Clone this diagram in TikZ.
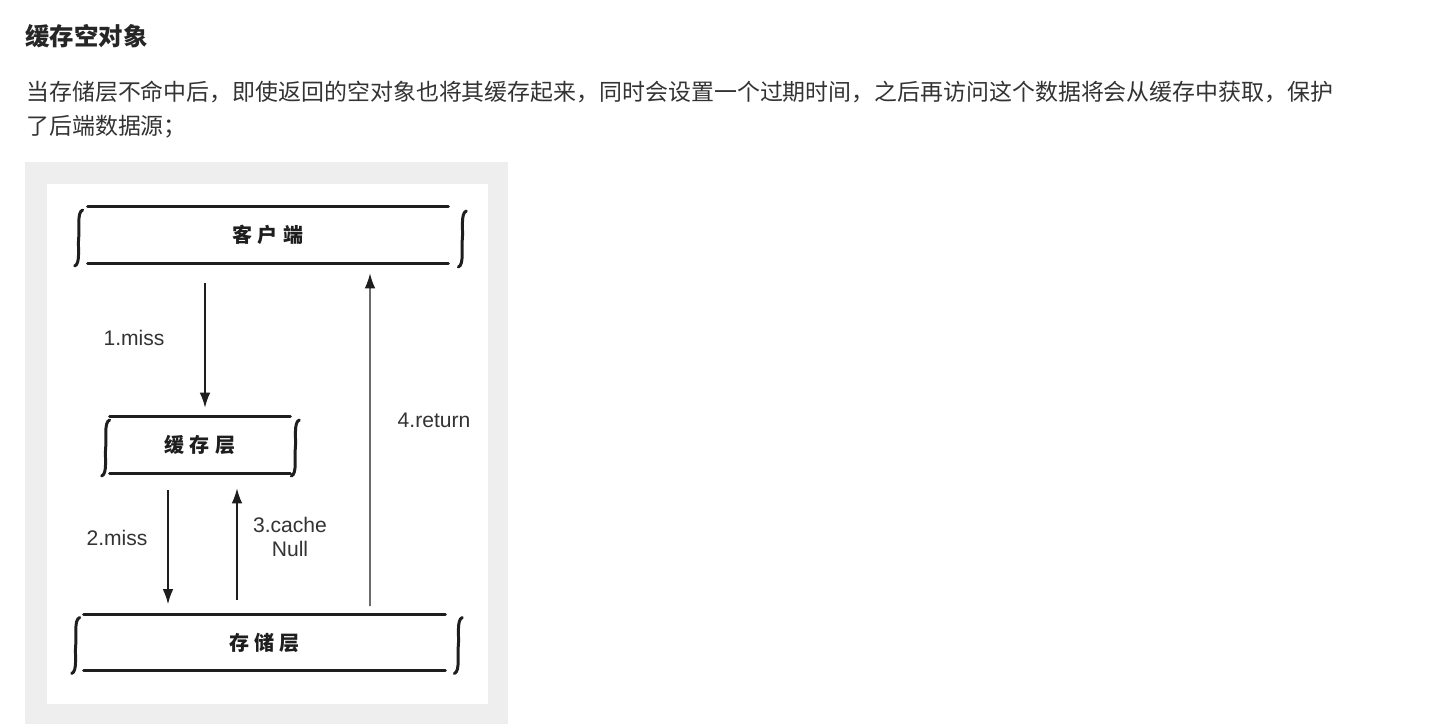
\documentclass[tikz,border=0pt]{standalone}
\usepackage{fontspec}
\setmainfont{Liberation Sans}
\newfontfamily\cjk{Noto Sans CJK SC}
\newfontfamily\cjkbox[LetterSpace=25]{Noto Sans CJK SC}
\usetikzlibrary{arrows.meta,calc}
\definecolor{inkgray}{HTML}{333333}
\definecolor{panelgray}{HTML}{EEEEEE}
\definecolor{penline}{HTML}{1E1E1E}

\begin{document}
\begin{tikzpicture}[x=0.02cm,y=-0.02cm,
    layerline/.style={penline,line width=1.7pt,line cap=round},
    layertext/.style={inner sep=0,minimum height=1.12cm,text=penline,
      font=\cjkbox\bfseries\fontsize{11.4pt}{13pt}\selectfont},
    flow/.style={penline,line width=0.8pt,-{Latex[length=8.5pt,width=6pt]}},
    steplabel/.style={inkgray,align=center,font=\fontsize{12pt}{13.6pt}\selectfont},
    layerbrace/.pic={\draw[layerline] (4,-28) .. controls (-2,-26) and (1,-8) .. (0,0)
      .. controls (-1,8) and (2,26) .. (-4,28);}]
    \useasboundingbox (0,0) rectangle (1434,724);
    % heading and text
    \node[anchor=west,inner sep=0,text=black!85,font=\cjk\bfseries\fontsize{13.9pt}{16pt}\selectfont] (title) at (25,36) {缓存空对象};
    \node[anchor=west,inner sep=0,text=inkgray,font=\cjk\fontsize{13.05pt}{16pt}\selectfont] (line1) at (26,92)
      {当存储层不命中后，即使返回的空对象也将其缓存起来，同时会设置一个过期时间，之后再访问这个数据将会从缓存中获取，保护};
    \node[anchor=west,inner sep=0,text=inkgray,font=\cjk\fontsize{13.05pt}{16pt}\selectfont] (line2) at (26,127) {了后端数据源；};
    % picture frame
    \fill[panelgray] (25,162) rectangle (508,724);
    \fill[white] (47,184) rectangle (488,704);
    % layers
    \node[layertext,minimum width=7.2cm] (client) at (268,235) {客户端};
    \node[layertext,minimum width=3.6cm] (cache) at (200,445) {缓存层};
    \node[layertext,minimum width=7.22cm] (store) at (264.5,642.5) {存储层};
    \foreach \layer in {client,cache,store} {
      \draw[layerline] (\layer.north west) -- (\layer.north east);
      \draw[layerline] (\layer.south west) -- (\layer.south east);
    }
    \pic at ($(client.west)+(-9,3)$) {layerbrace};
    \pic at ($(client.east)+(14,4)$) {layerbrace};
    \pic at ($(cache.west)+(-4,3)$) {layerbrace};
    \pic at ($(cache.east)+(5,3)$) {layerbrace};
    \pic at ($(store.west)+(-8,3)$) {layerbrace};
    \pic at ($(store.east)+(13,3)$) {layerbrace};
    % requests
    \draw[flow] ($(client.south)+(-63,20)$) -- ($(cache.north)+(5,-9)$);
    \draw[flow] ($(cache.south)+(-32,17)$) -- ($(store.north)+(-96.5,-10)$);
    \draw[flow] ($(store.north)+(-27.5,-14)$) -- ($(cache.south)+(37,15)$);
    \draw[flow] ($(store.north)+(105.5,-8)$) -- ($(client.south)+(102,10)$);
    \node[steplabel] (miss1) at (134,338) {1.miss};
    \node[steplabel] (miss2) at (117,538) {2.miss};
    \node[steplabel] (cachenull) at (290,537) {3.cache\\Null};
    \node[steplabel] (ret) at (434,420) {4.return};
\end{tikzpicture}
\end{document}
